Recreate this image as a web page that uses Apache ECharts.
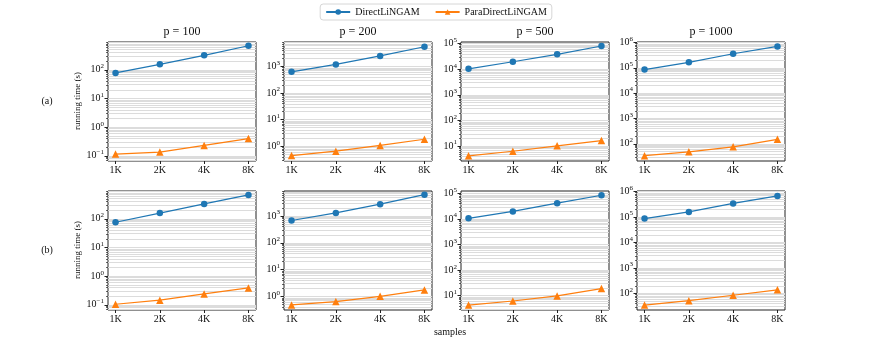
<!DOCTYPE html>
<html>
<head>
<meta charset="utf-8">
<script src="https://cdn.jsdelivr.net/npm/echarts@6/dist/echarts.min.js"></script>
<style>
html, body { margin: 0; padding: 0; background: #fff; }
#chart { width: 872px; height: 349px; }
</style>
</head>
<body>
<div id="chart"></div>
<script>
const samples = ['1K', '2K', '4K', '8K'];
const panelTitles = ['p = 100', 'p = 200', 'p = 500', 'p = 1000'];
const rowLabels = ['(a)', '(b)'];

// running time (s), one list per p
const directA = [[78, 155, 320, 690], [630, 1200, 2500, 5500], [10300, 19500, 38000, 80000], [85000, 165000, 360000, 700000]];
const paraA = [[0.115, 0.135, 0.23, 0.40], [0.45, 0.66, 1.08, 1.85], [4.2, 6.3, 10.3, 16.5], [34, 48, 76, 150]];
const directB = [[76, 158, 330, 680], [680, 1300, 2750, 6200], [10700, 20000, 42000, 86000], [87000, 158000, 340000, 670000]];
const paraB = [[0.105, 0.145, 0.24, 0.39], [0.49, 0.65, 1.02, 1.77], [4.3, 6.2, 9.8, 19], [35, 52, 85, 138]];

// y limits, as log10
const yLimA = [[-1.18, 2.97], [-0.55, 3.92], [0.42, 5.06], [1.32, 6.02]];
const yLimB = [[-1.18, 2.97], [-0.5, 3.93], [0.44, 5.1], [1.35, 6.02]];

const SERIF = '"Liberation Serif", "Times New Roman", serif';
const BLUE = '#1f77b4';
const ORANGE = '#ff7f0e';
const lefts = [108, 284, 461, 637];
const tops = [42, 191];
const W = 148, H = 119;

let chart = echarts.init(document.getElementById('chart'));

let grids = [], xAxes = [], yAxes = [], series = [], titles = [];

function logTicks(lo, hi) {
	let major = [], minor = [];
	for (let n = Math.floor(lo); n <= Math.ceil(hi); n++) {
		for (let k = 1; k <= 9; k++) {
			let v = n + Math.log10(k);
			if (v < lo - 1e-9 || v > hi + 1e-9) continue;
			if (k === 1) major.push(v); else minor.push(v);
		}
	}
	return { major, minor };
}

function supLabel(v) {
	let n = Math.round(v);
	if (Math.abs(v - n) > 1e-6) return '';
	return '{b|10}{s|' + (n < 0 ? '\u2212' + (-n) : n) + '}';
}

for (let r = 0; r < 2; r++) {
	for (let c = 0; c < 4; c++) {
		let i = r * 4 + c;
		let lim = (r === 0 ? yLimA : yLimB)[c];
		let dir = (r === 0 ? directA : directB)[c];
		let par = (r === 0 ? paraA : paraB)[c];
		let t = logTicks(lim[0], lim[1]);

		grids.push({
			left: lefts[c], top: tops[r], width: W, height: H,
			show: true, borderColor: '#222', borderWidth: 1, backgroundColor: 'transparent'
		});
		xAxes.push({
			gridIndex: i, type: 'value', min: -0.17, max: 3.17, position: 'bottom',
			axisLine: { show: false, onZero: false },
			splitLine: { show: false },
			axisTick: { customValues: [0, 1, 2, 3], length: 3, lineStyle: { color: '#222' } },
			axisLabel: {
				customValues: [0, 1, 2, 3], margin: 4,
				formatter: v => samples[Math.round(v)],
				fontFamily: SERIF, fontSize: 10, color: '#111'
			}
		});
		yAxes.push({
			gridIndex: i, type: 'value', min: lim[0], max: lim[1], position: 'left',
			axisLine: { show: false, onZero: false },
			splitLine: { show: false },
			axisTick: { customValues: t.major, length: 3.5, lineStyle: { color: '#222' } },
			axisLabel: {
				customValues: t.major, margin: 4, formatter: supLabel,
				rich: {
					b: { fontFamily: SERIF, fontSize: 10, color: '#111', lineHeight: 14 },
					s: { fontFamily: SERIF, fontSize: 7, color: '#111', lineHeight: 7, verticalAlign: 'top' }
				}
			}
		});
		yAxes.push({
			gridIndex: i, type: 'value', min: lim[0], max: lim[1], position: 'left',
			axisLine: { show: false, onZero: false },
			splitLine: { show: false },
			axisLabel: { show: false },
			axisTick: { customValues: t.minor, length: 2, lineStyle: { color: '#222', width: 0.7 } }
		});

		series.push({
			name: 'grid' + i, type: 'line', xAxisIndex: i, yAxisIndex: 2 * i,
			data: [], z: 1, silent: true,
			markLine: {
				silent: true, z: 1, animation: false,
				symbol: ['none', 'none'],
				label: { show: false },
				emphasis: { disabled: true },
				lineStyle: { color: '#dcdcdc', width: 1, type: 'solid' },
				data: t.major.concat(t.minor).map(v => ({ yAxis: v }))
			}
		});
		series.push({
			name: 'DirectLiNGAM', type: 'line', xAxisIndex: i, yAxisIndex: 2 * i,
			data: dir.map((v, k) => [k, Math.log10(v)]),
			symbol: 'circle', symbolSize: 6.5, z: 3,
			itemStyle: { color: BLUE },
			lineStyle: { color: BLUE, width: 1.2 }
		});
		series.push({
			name: 'ParaDirectLiNGAM', type: 'line', xAxisIndex: i, yAxisIndex: 2 * i,
			data: par.map((v, k) => [k, Math.log10(v)]),
			symbol: 'triangle', symbolSize: 7.5, z: 3,
			itemStyle: { color: ORANGE },
			lineStyle: { color: ORANGE, width: 1.2 }
		});

		if (r === 0) {
			titles.push({
				text: panelTitles[c], left: lefts[c] + W / 2, top: 26, textAlign: 'center', padding: 0,
				textStyle: { fontFamily: SERIF, fontSize: 12, fontWeight: 'normal', color: '#111' }
			});
		}
	}
}

let graphics = [];
rowLabels.forEach((txt, r) => {
	let cy = r === 0 ? 101 : 250;
	graphics.push({
		type: 'text', x: 47, y: cy,
		style: { text: txt, fontFamily: SERIF, fontSize: 10, fill: '#111', align: 'center', verticalAlign: 'middle' }
	});
	graphics.push({
		type: 'text', x: 78, y: cy, rotation: Math.PI / 2,
		style: { text: 'running time (s)', fontFamily: SERIF, fontSize: 9, fill: '#111', align: 'center', verticalAlign: 'middle' }
	});
});
graphics.push({
	type: 'text', x: 450, y: 332,
	style: { text: 'samples', fontFamily: SERIF, fontSize: 10, fill: '#111', align: 'center', verticalAlign: 'middle' }
});

let option = {
	animation: false,
	backgroundColor: '#fff',
	title: titles,
	legend: {
		data: ['DirectLiNGAM', 'ParaDirectLiNGAM'],
		top: 4, left: 'center',
		itemWidth: 24, itemHeight: 7, itemGap: 15,
		padding: [3, 5, 3, 5],
		borderColor: '#cccccc', borderWidth: 0.8, borderRadius: 3,
		textStyle: { fontFamily: SERIF, fontSize: 10, color: '#111' }
	},
	grid: grids,
	xAxis: xAxes,
	yAxis: yAxes,
	series: series,
	graphic: graphics
};
chart.setOption(option);
</script>
</body>
</html>
